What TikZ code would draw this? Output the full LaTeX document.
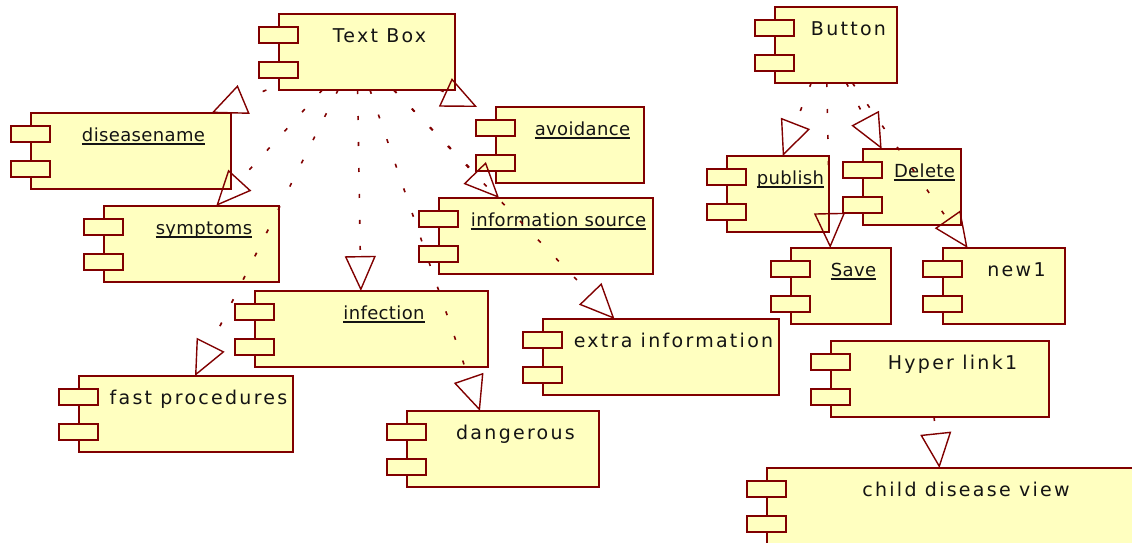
\documentclass[tikz,border=0pt]{standalone}
\usepackage{fontspec}
\usetikzlibrary{arrows.meta,calc}
\newfontfamily\lblwidefont[LetterSpace=12]{DejaVu Sans}
\newfontfamily\lblnormfont[LetterSpace=2]{DejaVu Sans}
\definecolor{umlred}{RGB}{128,0,0}
\definecolor{umlfill}{RGB}{255,255,192}
\definecolor{umltext}{RGB}{20,20,20}
\tikzset{
  compbox/.style={draw=umlred, fill=umlfill, line width=1.5pt},
  compnode/.style={inner sep=0pt, outer sep=0pt, anchor=north west},
  lblw/.style={font={\lblwidefont\fontsize{19pt}{22pt}\selectfont}, text=umltext},
  lblu/.style={font={\lblnormfont\fontsize{18pt}{21pt}\selectfont}, text=umltext},
  conn/.style={draw=umlred, line width=1.6pt, dash pattern=on 4pt off 22pt,
    -{Triangle[open, length=35pt, width=31pt, line width=1.4pt]}},
}
\newcommand\comp[7]{%
  \node[compnode, minimum width={#4-#2}, minimum height={#5-#3}] (#1) at (#2,#3) {};
  \draw[compbox] ({#2+20},#3) rectangle (#4,#5);
  \draw[compbox] (#2,{#3+13}) rectangle ({#2+39},{#3+29});
  \draw[compbox] (#2,{#3+48}) rectangle ({#2+39},{#3+64});
  \node[#7, anchor=base, inner sep=0pt] (#1-l) at ({(#2+39+#4)/2+3},{#3+28}) {#6};
}
\newcommand\ucomp[6]{%
  \comp{#1}{#2}{#3}{#4}{#5}{#6}{lblu}
  \draw[umltext, line width=1.3pt] ($(#1-l.base west)+(0,3)$) -- ($(#1-l.base east)+(0,3)$);
}
\begin{document}
\begin{tikzpicture}[x=1pt, y=-1pt]
\useasboundingbox (0,0) rectangle (1132,542);
\clip (0,0) rectangle (1132,542);
% components
\comp{textbox}{259}{14}{455}{90}{Text Box}{lblw}
\ucomp{diseasename}{11}{113}{231}{189}{diseasename}
\ucomp{avoidance}{476}{107}{644}{183}{avoidance}
\ucomp{symptoms}{84}{206}{279}{282}{symptoms}
\ucomp{infosrc}{419}{198}{653}{274}{information source}
\ucomp{infection}{235}{291}{488}{367}{infection}
\comp{fastproc}{59}{376}{293}{452}{fast procedures}{lblw}
\comp{dangerous}{387}{411}{599}{487}{dangerous}{lblw}
\comp{extrainfo}{523}{319}{779}{395}{extra information}{lblw}
\comp{button}{755}{7}{897}{83}{Button}{lblw}
\ucomp{publish}{707}{156}{829}{232}{publish}
\ucomp{delete}{843}{149}{961}{225}{Delete}
\ucomp{save}{771}{248}{891}{324}{Save}
\comp{new1}{923}{248}{1065}{324}{new1}{lblw}
\comp{hyperlink}{811}{341}{1049}{417}{Hyper link1}{lblw}
\comp{childview}{747}{468}{1140}{544}{child disease view}{lblw}
% connectors
\draw[conn] (textbox) -- (diseasename);
\draw[conn] (textbox) -- (avoidance);
\draw[conn] (textbox) -- (infosrc);
\draw[conn] (textbox) -- (symptoms);
\draw[conn] (textbox) -- (infection);
\draw[conn] (textbox) -- (fastproc);
\draw[conn] (textbox) -- (dangerous);
\draw[conn] (textbox) -- (extrainfo);
\draw[conn] (button) -- (publish);
\draw[conn] (button) -- (save);
\draw[conn] (button) -- (delete);
\draw[conn] (button) -- (new1);
\draw[conn] (hyperlink) -- (childview);
\end{tikzpicture}
\end{document}
